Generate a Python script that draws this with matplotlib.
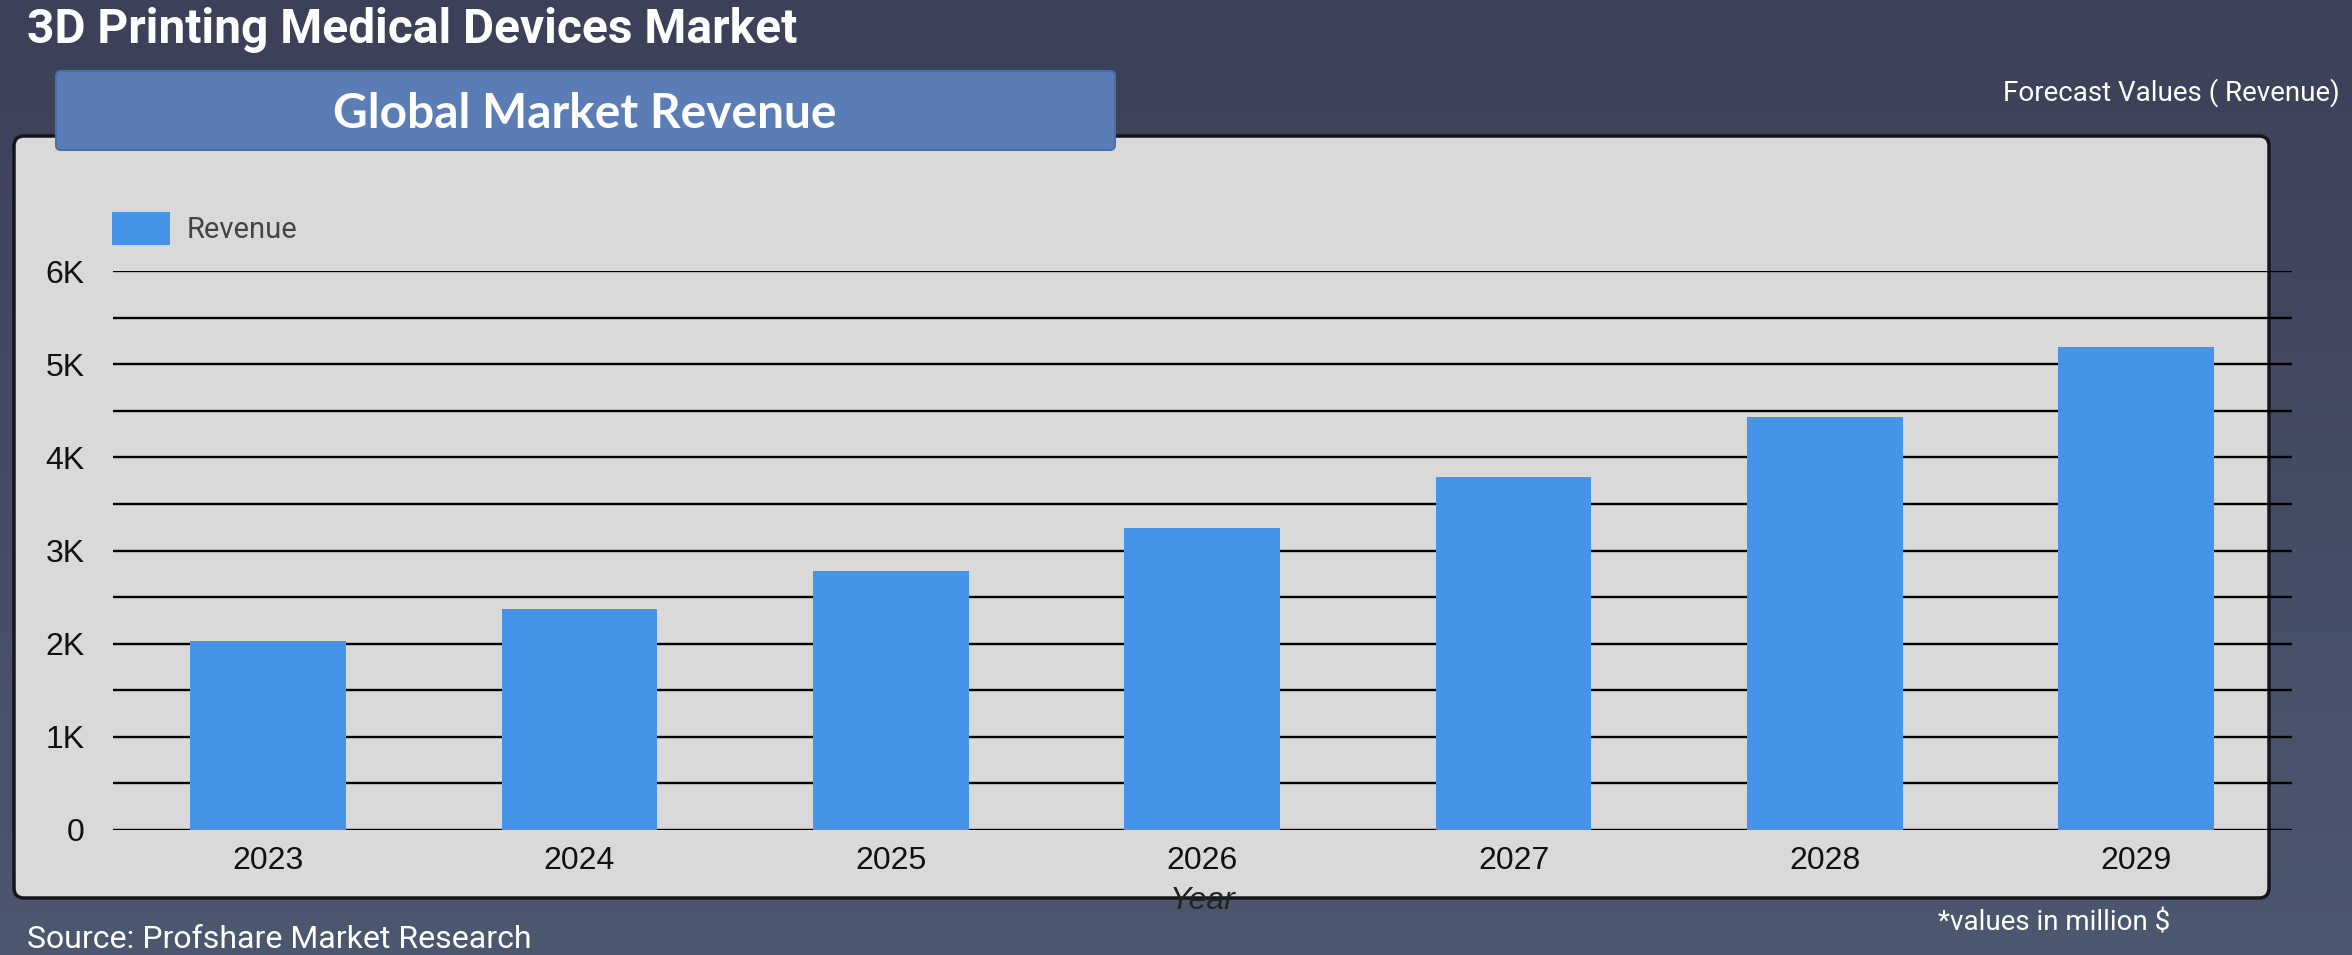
import matplotlib.pyplot as plt
import numpy as np
from matplotlib.patches import FancyBboxPatch, Patch

# Data
years = ['2023', '2024', '2025', '2026', '2027', '2028', '2029']
revenue = [2030, 2375, 2775, 3240, 3790, 4435, 5190]
y_ticks = [0, 1000, 2000, 3000, 4000, 5000, 6000]
y_tick_labels = ['0', '1K', '2K', '3K', '4K', '5K', '6K']

W, H = 2352, 955
fig = plt.figure(figsize=(W / 100, H / 100), dpi=100)

# background in pixel coordinates
bg = fig.add_axes([0, 0, 1, 1], zorder=0)
bg.set_xlim(0, W)
bg.set_ylim(H, 0)
bg.axis('off')
top_c = np.array([60, 64, 88]) / 255
bot_c = np.array([76, 88, 112]) / 255
grad = np.linspace(0, 1, 256)[:, None, None]
img = top_c * (1 - grad) + bot_c * grad
bg.imshow(img, extent=[0, W, H, 0], aspect='auto', zorder=0)

# gray chart panel
bg.add_patch(FancyBboxPatch((14, 136), 2255, 762, boxstyle='round,pad=0,rounding_size=10',
                            facecolor='#d9d9d9', edgecolor='#15151c', linewidth=2.5, zorder=1))
# header box
bg.add_patch(FancyBboxPatch((56, 71), 1059, 79, boxstyle='round,pad=0,rounding_size=5',
                            facecolor='#5b7db5', edgecolor='#4d6ea6', linewidth=1.5, zorder=3))

bg.text(27, 30, '3D Printing Medical Devices Market', color='white', fontsize=34.5,
        fontweight='bold', family='Roboto', va='center', ha='left')
bg.text(585, 114, 'Global Market Revenue', color='white', fontsize=34.5,
        fontweight='bold', family='Lato', va='center', ha='center', zorder=4)
bg.text(2340, 93, 'Forecast Values ( Revenue)', color='white', fontsize=20,
        family='Roboto', va='center', ha='right')
bg.text(1938, 923, '*values in million $', color='white', fontsize=20,
        family='Roboto', va='center', ha='left')
bg.text(27, 939, 'Source: Profshare Market Research', color='white', fontsize=23,
        family='Roboto', va='center', ha='left')

# main chart
ax = fig.add_axes([112.5 / W, 1 - 829.5 / H, (2292 - 112.5) / W, (829.5 - 271.5) / H], zorder=2)
ax.set_facecolor('none')
x = np.arange(len(years))
ax.bar(x, revenue, width=0.5, color='#4694e8', zorder=3)
ax.set_xlim(-0.5, len(years) - 0.5)
ax.set_ylim(0, 6000)
ax.set_yticks(y_ticks)
ax.set_yticklabels(y_tick_labels, family='Liberation Sans', fontsize=23, color='#111111')
ax.set_yticks(np.arange(500, 6000, 1000), minor=True)
ax.set_xticks(x)
ax.set_xticklabels(years, family='Liberation Sans', fontsize=23, color='#111111')
ax.tick_params(axis='both', which='both', length=0)
ax.tick_params(axis='y', pad=20)
ax.tick_params(axis='x', pad=12)
ax.grid(axis='y', which='both', color='black', linewidth=1.7, zorder=1)
for s in ax.spines.values():
    s.set_visible(False)
ax.set_xlabel('Year', family='Liberation Sans', fontsize=23, style='italic', color='#222222',
              labelpad=7)

ax.legend(handles=[Patch(facecolor='#4694e8', label='Revenue')], loc='upper left',
          bbox_to_anchor=(112 / W, 1 - 212 / H), bbox_transform=fig.transFigure,
          frameon=False, prop={'family': 'Roboto', 'size': 21},
          handlelength=2.0, handleheight=1.35, borderpad=0, borderaxespad=0,
          labelcolor='#444444', handletextpad=0.55)

fig.savefig('out.png', dpi=100)
